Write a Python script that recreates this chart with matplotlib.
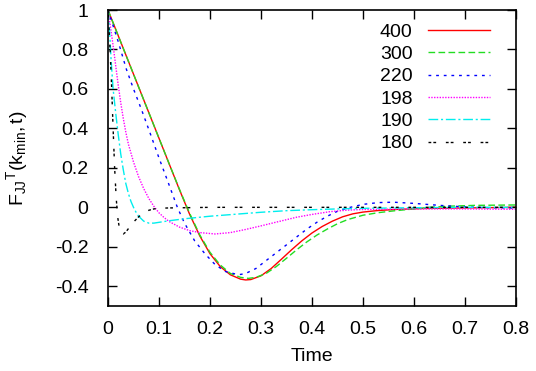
import matplotlib
matplotlib.use("Agg")
import matplotlib.pyplot as plt

plt.rcParams["font.family"] = ["Liberation Sans", "DejaVu Sans"]
plt.rcParams["mathtext.fontset"] = "custom"
plt.rcParams["mathtext.rm"] = "Liberation Sans"
plt.rcParams["mathtext.it"] = "Liberation Sans"

# curves, one per system size
t_400 = [0, 0.02, 0.05, 0.08, 0.1, 0.12, 0.14, 0.16, 0.18, 0.2, 0.22, 0.24, 0.26, 0.27, 0.28,
         0.3, 0.32, 0.34, 0.36, 0.38, 0.4, 0.42, 0.44, 0.46, 0.48, 0.5, 0.53, 0.57, 0.62, 0.7, 0.8]
f_400 = [1, 0.87, 0.675, 0.48, 0.35, 0.22, 0.09, -0.035, -0.145, -0.235, -0.3, -0.342, -0.364, -0.368, -0.366,
         -0.347, -0.31, -0.263, -0.215, -0.17, -0.13, -0.097, -0.07, -0.048, -0.033, -0.024, -0.016, -0.01, -0.006, -0.003, 0.0]

t_300 = [0, 0.02, 0.05, 0.08, 0.1, 0.12, 0.14, 0.16, 0.18, 0.2, 0.22, 0.24, 0.26, 0.275, 0.29,
         0.31, 0.33, 0.35, 0.37, 0.39, 0.41, 0.43, 0.45, 0.47, 0.5, 0.53, 0.56, 0.6, 0.63, 0.67, 0.72, 0.8]
f_300 = [1, 0.87, 0.675, 0.48, 0.35, 0.22, 0.092, -0.03, -0.14, -0.228, -0.292, -0.335, -0.355, -0.36, -0.355,
         -0.335, -0.3, -0.258, -0.215, -0.175, -0.14, -0.11, -0.083, -0.062, -0.04, -0.027, -0.018, -0.008, 0.0, 0.006, 0.01, 0.012]

t_220 = [0, 0.01, 0.02, 0.036, 0.05, 0.065, 0.082, 0.1, 0.116, 0.136, 0.15, 0.17, 0.19, 0.21, 0.23, 0.25, 0.26,
         0.27, 0.29, 0.31, 0.33, 0.35, 0.37, 0.39, 0.41, 0.43, 0.45, 0.47, 0.5, 0.53, 0.56, 0.6, 0.65, 0.7, 0.75, 0.8]
f_220 = [1, 0.92, 0.84, 0.7, 0.6, 0.5, 0.38, 0.25, 0.14, 0.0, -0.08, -0.17, -0.235, -0.29, -0.325, -0.338, -0.34,
         -0.335, -0.31, -0.27, -0.23, -0.19, -0.15, -0.11, -0.075, -0.045, -0.02, -0.003, 0.015, 0.024, 0.026, 0.02, 0.01, 0.002, -0.002, -0.003]

t_198 = [0, 0.004, 0.01, 0.015, 0.02, 0.025, 0.03, 0.035, 0.04, 0.05, 0.06, 0.07, 0.08, 0.09, 0.1, 0.11, 0.12,
         0.14, 0.16, 0.18, 0.21, 0.24, 0.27, 0.3, 0.33, 0.37, 0.4, 0.435, 0.47, 0.5, 0.6, 0.7, 0.8]
f_198 = [1, 0.93, 0.82, 0.72, 0.62, 0.53, 0.45, 0.38, 0.32, 0.23, 0.155, 0.095, 0.045, 0.005, -0.028, -0.052, -0.072,
         -0.1, -0.118, -0.128, -0.135, -0.128, -0.112, -0.094, -0.075, -0.05, -0.036, -0.022, -0.014, -0.011, -0.008, -0.008, -0.01]

t_190 = [0, 0.003, 0.006, 0.01, 0.015, 0.02, 0.025, 0.03, 0.035, 0.04, 0.045, 0.05, 0.055, 0.06, 0.07, 0.08,
         0.09, 0.1, 0.12, 0.15, 0.2, 0.25, 0.3, 0.35, 0.4, 0.45, 0.5, 0.6, 0.7, 0.8]
f_190 = [1, 0.9, 0.75, 0.6, 0.48, 0.37, 0.27, 0.19, 0.12, 0.07, 0.03, 0.0, -0.025, -0.045, -0.07, -0.08,
         -0.08, -0.076, -0.068, -0.058, -0.045, -0.035, -0.025, -0.017, -0.012, -0.008, -0.005, -0.002, 0.0, 0.0]

t_180 = [0, 0.002, 0.004, 0.007, 0.01, 0.013, 0.016, 0.019, 0.022, 0.026, 0.03, 0.035, 0.04, 0.045, 0.05,
         0.06, 0.07, 0.08, 0.09, 0.1, 0.12, 0.15, 0.2, 0.3, 0.4, 0.5, 0.6, 0.7, 0.8]
f_180 = [1, 0.9, 0.8, 0.62, 0.4, 0.2, 0.05, -0.05, -0.1, -0.128, -0.135, -0.125, -0.108, -0.09, -0.075,
         -0.048, -0.028, -0.015, -0.008, -0.005, -0.003, -0.002, 0, 0, 0, 0, 0, 0, 0]

series = [
    ("400", t_400, f_400, "#ff0000", "-"),
    ("300", t_300, f_300, "#22dd22", (0, (4.8, 2.4))),
    ("220", t_220, f_220, "#0000ff", (0, (2, 3.5))),
    ("198", t_198, f_198, "#ff00ff", (0, (1, 1))),
    ("190", t_190, f_190, "#00eeee", (0, (7, 2, 1.5, 2))),
    ("180", t_180, f_180, "#000000", (0, (2, 1.5, 2, 7))),
]

x_ticks = [0, 0.1, 0.2, 0.3, 0.4, 0.5, 0.6, 0.7, 0.8]
x_tick_labels = ["0", "0.1", "0.2", "0.3", "0.4", "0.5", "0.6", "0.7", "0.8"]
y_ticks = [-0.4, -0.2, 0, 0.2, 0.4, 0.6, 0.8, 1.0]
y_tick_labels = ["-0.4", "-0.2", "0", "0.2", "0.4", "0.6", "0.8", "1"]

fig = plt.figure(figsize=(5.36, 3.71), dpi=100)
ax = fig.add_axes([108 / 536, 1 - 306 / 371, 408 / 536, 296 / 371])

for label, t, f, color, style in series:
    ax.plot(t, f, color=color, linestyle=style, linewidth=1.0, label=label)

ax.set_xlim(0, 0.8)
ax.set_ylim(-0.5, 1.0)
ax.set_xticks(x_ticks)
ax.set_xticklabels(x_tick_labels)
ax.set_yticks(y_ticks)
ax.set_yticklabels(y_tick_labels)
ax.tick_params(direction="in", length=6.5, width=1, labelsize=14, top=True, right=True)
ax.tick_params(axis="x", pad=11)
ax.tick_params(axis="y", pad=14)
for spine in ax.spines.values():
    spine.set_linewidth(1.2)

ax.set_xlabel("Time", fontsize=14, labelpad=7)
ax.set_ylabel(r"$\mathrm{F_{JJ}{}^{T}(k_{min},t)}$", fontsize=14)
ax.yaxis.set_label_coords(-0.19, 0.5)

ax.legend(
    loc="upper right",
    bbox_to_anchor=(0.936, 0.955),
    frameon=False,
    markerfirst=False,
    fontsize=14,
    handlelength=3.2,
    handletextpad=0.77,
    labelspacing=0.24,
    borderpad=0,
    borderaxespad=0,
)

fig.savefig("out.png", dpi=100)
